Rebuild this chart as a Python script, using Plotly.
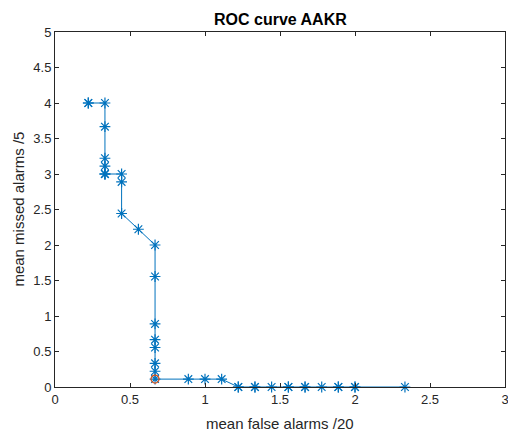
import plotly.graph_objects as go

# ROC points (mean false alarms /20, mean missed alarms /5), in curve order
false_alarms = [0.222, 0.222, 0.333, 0.333, 0.333, 0.333, 0.333, 0.333, 0.333,
                0.444, 0.444, 0.444, 0.556, 0.667,
                0.667, 0.667, 0.667, 0.667, 0.667, 0.667, 0.667,
                0.889, 1.0, 1.111,
                1.222, 1.222, 1.333, 1.333, 1.444, 1.556, 1.556, 1.667, 1.667,
                1.778, 1.889, 1.889, 2.0, 2.0, 2.333]
missed_alarms = [4.0, 4.0, 4.0, 3.667, 3.222, 3.111, 3.0, 3.0, 3.0,
                 3.0, 2.889, 2.444, 2.222, 2.0,
                 1.556, 0.889, 0.667, 0.556, 0.333, 0.222, 0.111, 0.111,
                 0.111, 0.111,
                 0.0, 0.0, 0.0, 0.0, 0.0, 0.0, 0.0, 0.0, 0.0,
                 0.0, 0.0, 0.0, 0.0, 0.0, 0.0]
# the selected operating point
sel_x = [0.667]
sel_y = [0.111]

x_ticks = [0, 0.5, 1, 1.5, 2, 2.5, 3]
y_ticks = [0, 0.5, 1, 1.5, 2, 2.5, 3, 3.5, 4, 4.5, 5]

title_text = "ROC curve AAKR"
x_label = "mean false alarms /20"
y_label = "mean missed alarms /5"

blue = "#0072BD"
orange = "#D95319"
axc = "#262626"
FONT = "Liberation Sans, Arial, sans-serif"

fig = go.Figure()
fig.add_trace(go.Scatter(
    x=false_alarms, y=missed_alarms, mode="lines+markers",
    line=dict(color=blue, width=1),
    marker=dict(symbol="asterisk-open", size=9, color=blue,
                line=dict(color=blue, width=1.2)),
    showlegend=False, cliponaxis=False))
fig.add_trace(go.Scatter(
    x=sel_x, y=sel_y, mode="markers",
    marker=dict(symbol="circle-open", size=8, color=orange,
                line=dict(color=orange, width=1.2)),
    showlegend=False, cliponaxis=False))

axis_common = dict(showgrid=False, zeroline=False, showline=True, linecolor=axc,
                   linewidth=1, mirror="allticks", ticks="inside", ticklen=4,
                   tickcolor=axc, automargin=False, ticklabeloverflow="allow",
                   tickfont=dict(family=FONT, size=13, color=axc))

fig.update_layout(
    width=508, height=433,
    margin=dict(l=55, r=3, t=32, b=46),
    paper_bgcolor="white", plot_bgcolor="white",
    xaxis=dict(range=[0, 3], tickvals=x_ticks, ticktext=[str(t) for t in x_ticks],
               **axis_common),
    yaxis=dict(range=[0, 5], tickvals=y_ticks, ticktext=[str(t) for t in y_ticks],
               **axis_common),
    annotations=[
        dict(text="<b>" + title_text + "</b>", xref="paper", yref="paper",
             x=0.5, y=1.0366, xanchor="center", yanchor="middle", showarrow=False,
             font=dict(family=FONT, size=16, color="black")),
        dict(text=x_label, xref="paper", yref="paper",
             x=0.5, y=-0.104, xanchor="center", yanchor="middle", showarrow=False,
             font=dict(family=FONT, size=15, color=axc)),
        dict(text=y_label, xref="paper", yref="paper", textangle=-90,
             x=-0.082, y=0.5, xanchor="center", yanchor="middle", showarrow=False,
             font=dict(family=FONT, size=15, color=axc)),
    ],
)

fig.write_html("out.html", config={"displayModeBar": False},
               post_script="document.body.style.margin='0px';document.body.style.overflow='hidden';")
